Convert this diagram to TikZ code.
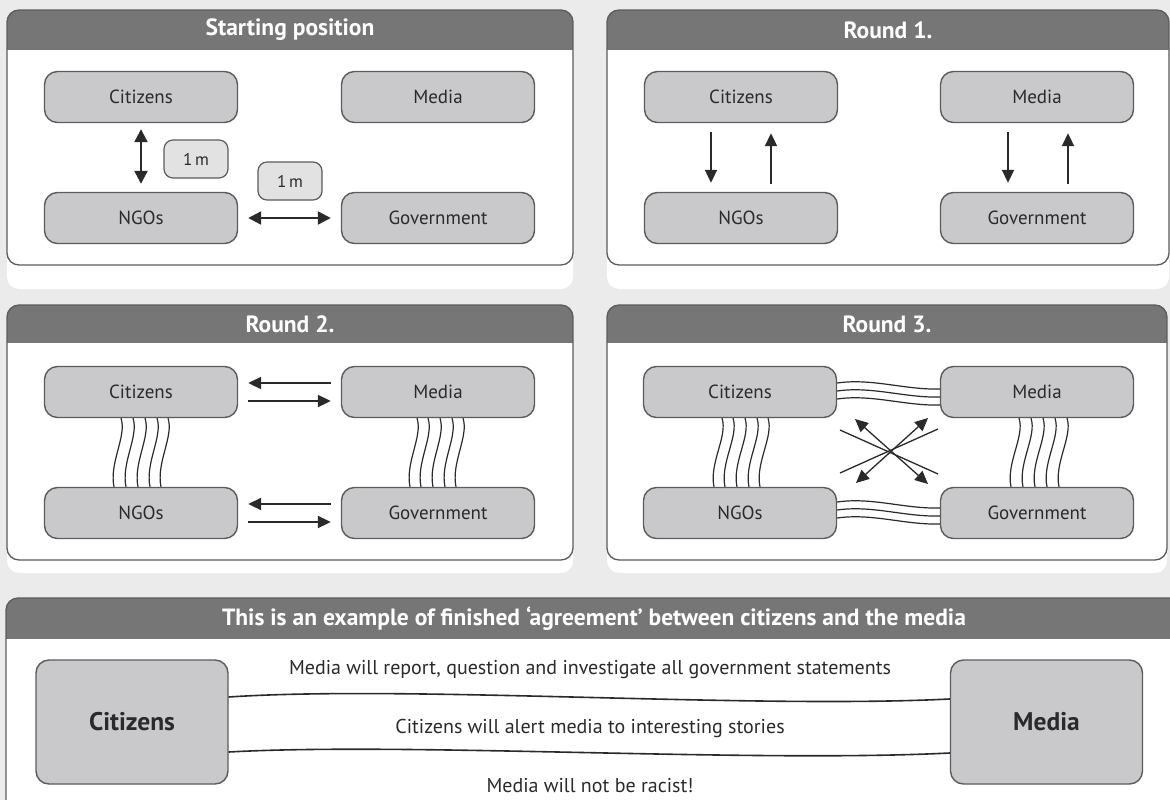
\documentclass[tikz,border=0pt]{standalone}
\usepackage{fontspec}
\setmainfont{PT Sans}
\usetikzlibrary{arrows.meta,calc}
\definecolor{bg}{HTML}{EBEBEB}
\definecolor{hdr}{HTML}{767676}
\definecolor{nodefill}{HTML}{C9C9CB}
\definecolor{nodeline}{HTML}{5C5C5C}
\definecolor{labfill}{HTML}{E2E2E2}
\definecolor{ink}{HTML}{2A2A2A}
\newcommand\mypanel[8]{%
  \fill[white, rounded corners=12pt] (#1,#2) rectangle (#3,#6);
  \begin{scope}
    \clip[rounded corners=12pt] (#1,#2) rectangle (#3,#5);
    \fill[hdr] (#1,#2) rectangle (#3,#4);
  \end{scope}
  \draw[draw=nodeline, line width=1.3pt, rounded corners=12pt] (#1,#2) rectangle (#3,#5);
  \node[paneltitle] (#8) at ({(#1+#3)/2},{(#2+#4)/2}) {#7};
}
\begin{document}
\begin{tikzpicture}[x=1pt,y=-1pt,
  actor/.style={draw=nodeline, line width=1.4pt, fill=nodefill, rounded corners=13pt,
    minimum width=193pt, minimum height=51pt, text=ink, inner sep=0pt,
    font=\fontsize{19}{21}\selectfont},
  bigactor/.style={actor, minimum width=192pt, minimum height=124pt,
    font=\fontsize{25.5}{28}\selectfont\bfseries},
  lab/.style={draw=nodeline, line width=1.2pt, fill=labfill, rounded corners=9pt,
    minimum width=64pt, minimum height=38pt, inner sep=0pt, text=ink,
    font=\fontsize{17}{19}\selectfont},
  paneltitle/.style={text=white, font=\fontsize{23.5}{26}\selectfont\bfseries},
  agree/.style={text=ink, font=\fontsize{20}{22}\selectfont},
  arr/.style={draw=ink, line width=2pt, -{Triangle[length=13pt,width=12pt]}},
  darr/.style={draw=ink, line width=2.2pt, {Triangle[length=13pt,width=13pt]}-{Triangle[length=13pt,width=13pt]}},
  xarr/.style={draw=ink, line width=1.3pt, {Triangle[length=13pt,width=12pt]}-{Triangle[length=13pt,width=12pt]}},
  xline/.style={draw=ink, line width=1.3pt},
  wav/.style={draw=ink, line width=1.2pt},
  tie/.style={draw=ink, line width=1.6pt}
]
\clip (0,0) rectangle (1170,800);
\fill[bg] (0,0) rectangle (1170,800);

% ---------- panels ----------
\mypanel{7}{10}{573}{50}{265}{289}{Starting position}{t1}
\mypanel{607}{10}{1169}{50}{265}{289}{Round 1.}{t2}
\mypanel{7}{305}{573}{343}{560}{573}{Round 2.}{t3}
\mypanel{607}{305}{1167}{343}{560}{573}{Round 3.}{t4}
\mypanel{6}{598}{1182}{639}{830}{830}{This is an example of finished `agreement' between citizens and the media}{t5}

% ---------- Starting position ----------
\node[actor] (a1) at (141,97) {Citizens};
\node[actor] (b1) at (438,97) {Media};
\node[actor] (c1) at (141,218) {NGOs};
\node[actor] (d1) at (438,218) {Government};
\node[lab] (l1) at (196,159) {1\,m};
\node[lab] (l2) at (290,181) {1\,m};
\draw[darr] ($(a1.south)+(0,6)$) -- ($(c1.north)+(0,-8)$);
\draw[darr] ($(c1.east)+(10,0)$) -- ($(d1.west)+(-10,0)$);

% ---------- Round 1 ----------
\node[actor] (a2) at (741,97) {Citizens};
\node[actor] (b2) at (1037,97) {Media};
\node[actor] (c2) at (741,218) {NGOs};
\node[actor] (d2) at (1037,218) {Government};
\draw[arr] ($(a2.south)+(-30,9)$) -- ($(c2.north)+(-30,-9)$);
\draw[arr] ($(c2.north)+(30,-8)$) -- ($(a2.south)+(30,10)$);
\draw[arr] ($(b2.south)+(-29,9)$) -- ($(d2.north)+(-29,-9)$);
\draw[arr] ($(d2.north)+(31,-8)$) -- ($(b2.south)+(31,10)$);

% ---------- Round 2 ----------
\node[actor] (a3) at (141,392) {Citizens};
\node[actor] (b3) at (438,392) {Media};
\node[actor] (c3) at (141,513) {NGOs};
\node[actor] (d3) at (438,513) {Government};
\draw[arr] ($(b3.west)+(-10,-9)$) -- ($(a3.east)+(10,-9)$);
\draw[arr] ($(a3.east)+(10,9)$) -- ($(b3.west)+(-10,9)$);
\draw[arr] ($(d3.west)+(-10,-9)$) -- ($(c3.east)+(10,-9)$);
\draw[arr] ($(c3.east)+(10,9)$) -- ($(d3.west)+(-10,9)$);
\foreach \dx in {-20,-8,4,16,27}{
  \draw[wav] ($(a3.south)+(\dx,0)$) .. controls +(6,18) and +(-5,-24) .. ($(c3.north)+(\dx-7,0)$);
}
\foreach \dx in {-21,-10,2,14,25}{
  \draw[wav] ($(b3.south)+(\dx,0)$) .. controls +(6,18) and +(-5,-24) .. ($(d3.north)+(\dx-7,0)$);
}

% ---------- Round 3 ----------
\node[actor] (a4) at (740,392) {Citizens};
\node[actor] (b4) at (1037,392) {Media};
\node[actor] (c4) at (740,513) {NGOs};
\node[actor] (d4) at (1037,513) {Government};
\foreach \dx in {-18,-7,5,17,28}{
  \draw[wav] ($(a4.south)+(\dx,0)$) .. controls +(6,18) and +(-5,-24) .. ($(c4.north)+(\dx-8,0)$);
}
\foreach \dx in {-18,-6,6,18,30}{
  \draw[wav] ($(b4.south)+(\dx,0)$) .. controls +(6,18) and +(-5,-24) .. ($(d4.north)+(\dx-8,0)$);
}
\foreach \dy in {-9,-1,7}{
  \draw[wav] ($(a4.east)+(0,\dy)$) .. controls +(35,-5) and +(-35,1) .. ($(b4.west)+(0,\dy+6)$);
}
\foreach \dy in {-11,-3,5}{
  \draw[wav] ($(c4.east)+(0,\dy)$) .. controls +(35,-5) and +(-35,1) .. ($(d4.west)+(0,\dy+6)$);
}
\coordinate (x1) at (855,419);
\coordinate (x2) at (928,484);
\coordinate (x3) at (928,418);
\coordinate (x4) at (856,483);
\coordinate (x5) at (840,430);
\coordinate (x6) at (938,474);
\coordinate (x7) at (938,429);
\coordinate (x8) at (840,473);
\draw[xline] (x5) -- (x6);
\draw[xline] (x7) -- (x8);
\draw[xarr] (x1) -- (x2);
\draw[xarr] (x3) -- (x4);

% ---------- Agreement ----------
\node[bigactor] (cz) at (132,722) {Citizens};
\node[bigactor] (md) at (1046.5,722) {Media};
\draw[tie] ($(cz.east)+(0,-25)$) .. controls +(180,-12) and +(-200,10) .. ($(md.west)+(0,-23)$);
\draw[tie] ($(cz.east)+(0,30)$) .. controls +(180,-10) and +(-200,10) .. ($(md.west)+(0,31)$);
\node[agree] (s1) at (590,670) {Media will report, question and investigate all government statements};
\node[agree] (s2) at (590,728) {Citizens will alert media to interesting stories};
\node[agree] (s3) at (590,786) {Media will not be racist!};
\end{tikzpicture}
\end{document}
